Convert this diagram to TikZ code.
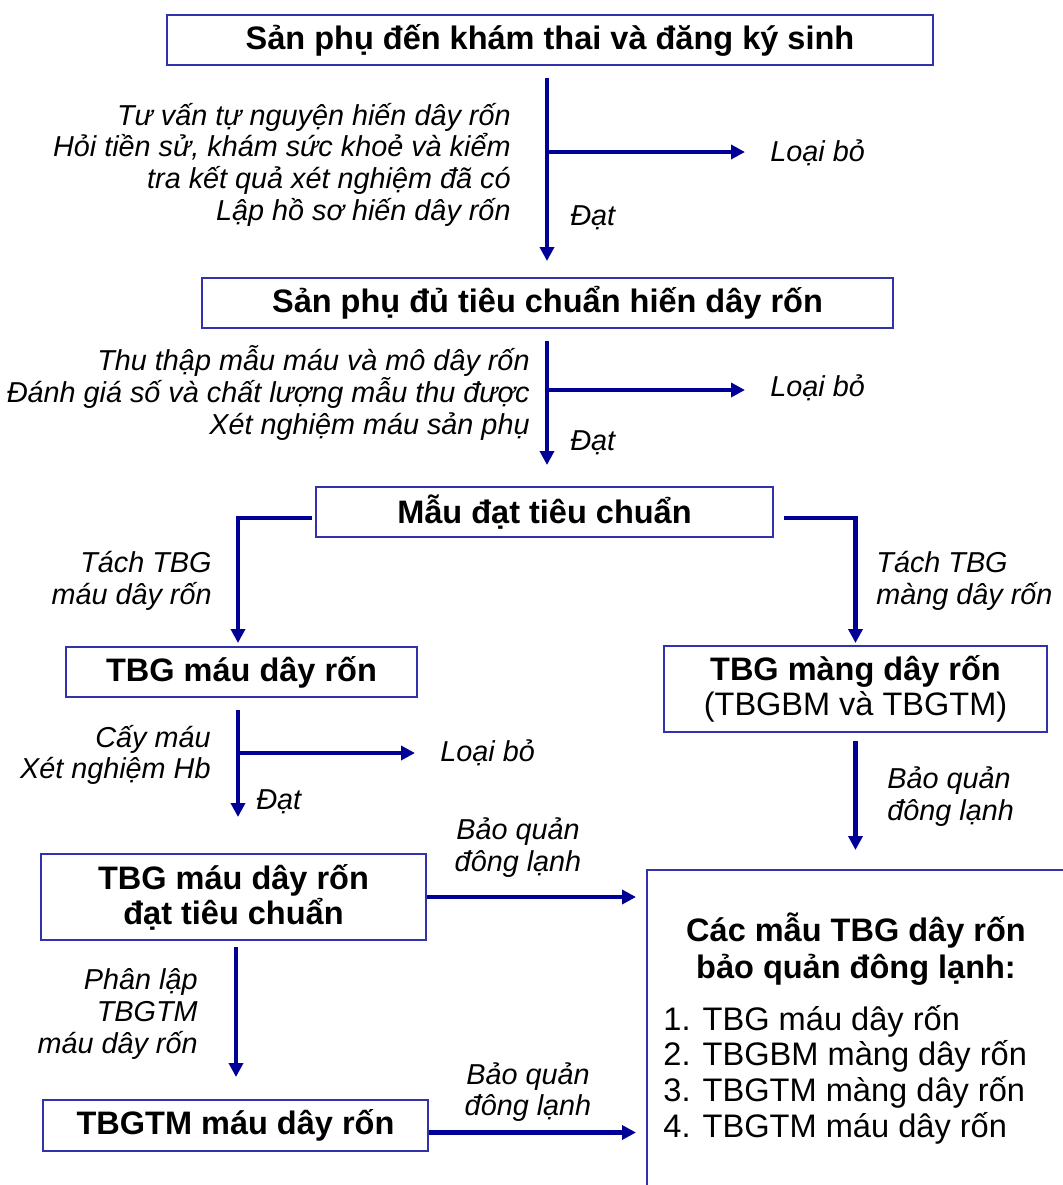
\documentclass[tikz,border=0pt]{standalone}
\usepackage{fontspec}
\setmainfont{Liberation Sans}
\usetikzlibrary{arrows.meta}
\definecolor{arrowblue}{RGB}{0,0,150}
\definecolor{boxblue}{RGB}{50,50,170}
\newcommand{\boxfont}{\fontsize{16.25}{17.5}\selectfont\bfseries}
\newcommand{\notefont}{\fontsize{14.4}{15.85}\selectfont\itshape}

\begin{document}
\begin{tikzpicture}[x=0.5pt,y=-0.5pt,
    box/.style={draw=boxblue,line width=1pt,inner sep=0pt,align=center,font=\boxfont},
    note/.style={inner sep=0pt,font=\notefont},
    arr/.style={draw=arrowblue,line width=2.2pt,-{Triangle[length=7pt,width=7pt]}}]
    \useasboundingbox (0,0) rectangle (1063,1185);
    \clip (0,0) rectangle (1063,1185);

    % Boxes
    \node[box,minimum width=383pt,minimum height=25pt] (kham) at (550,40) {Sản phụ đến khám thai và đăng ký sinh};
    \node[box,minimum width=345.5pt,minimum height=25pt] (dutc) at (547.5,303) {Sản phụ đủ tiêu chuẩn hiến dây rốn};
    \node[box,minimum width=228.5pt,minimum height=25pt] (mau) at (544.5,512) {Mẫu đạt tiêu chuẩn};
    \node[box,minimum width=175.5pt,minimum height=25pt] (tbgmau) at (241.5,672) {TBG máu dây rốn};
    \node[box,minimum width=191.5pt,minimum height=43pt] (tbgmang) at (855.5,689) {TBG màng dây rốn\\\mdseries(TBGBM và TBGTM)};
    \node[box,minimum width=192.5pt,minimum height=43pt] (tbgdat) at (233.5,897) {TBG máu dây rốn\\đạt tiêu chuẩn};
    \node[box,minimum width=192.5pt,minimum height=25.5pt] (tbgtm) at (235.5,1125.5) {TBGTM máu dây rốn};
    \node[draw=boxblue,line width=1pt,inner sep=0pt,minimum width=230pt,minimum height=200pt,anchor=north west] (kho) at (646,869) {};

    % Store contents
    \node[font=\fontsize{16.25}{18.5}\selectfont\bfseries,align=center,inner sep=0pt] (tieude) at (856,949.5) {Các mẫu TBG dây rốn\\bảo quản đông lạnh:};
    \node[font=\fontsize{16.3}{17.85}\selectfont,align=left,inner sep=0pt,anchor=west] (danhsach) at (663,1074.5) {1. TBG máu dây rốn\\2. TBGBM màng dây rốn\\3. TBGTM màng dây rốn\\4. TBGTM máu dây rốn};

    % Labels
    \node[note,anchor=east,align=right] (buoc1) at (511,164.5) {Tư vấn tự nguyện hiến dây rốn\\Hỏi tiền sử, khám sức khoẻ và kiểm\\tra kết quả xét nghiệm đã có\\Lập hồ sơ hiến dây rốn};
    \node[note,anchor=west] (loai1) at (770,153) {Loại bỏ};
    \node[note,anchor=west] (dat1) at (570,218) {Đạt};
    \node[note,anchor=east,align=right] (buoc2) at (530,393) {Thu thập mẫu máu và mô dây rốn\\Đánh giá số và chất lượng mẫu thu được\\Xét nghiệm máu sản phụ};
    \node[note,anchor=west] (loai2) at (770,388) {Loại bỏ};
    \node[note,anchor=west] (dat2) at (570,443) {Đạt};
    \node[note,anchor=east,align=right] (tach1) at (212,581) {Tách TBG\\máu dây rốn};
    \node[note,anchor=west,align=left] (tach2) at (876,581) {Tách TBG\\màng dây rốn};
    \node[note,anchor=east,align=right] (buoc3) at (211,755) {Cấy máu\\Xét nghiệm Hb};
    \node[note,anchor=west] (loai3) at (440,753) {Loại bỏ};
    \node[note,anchor=west] (dat3) at (256,802) {Đạt};
    \node[note,anchor=west,align=left] (bq1) at (887,796.5) {Bảo quản\\đông lạnh};
    \node[note,align=center] (bq2) at (518,847.5) {Bảo quản\\đông lạnh};
    \node[note,anchor=east,align=right] (phan) at (198,1014) {Phân lập\\TBGTM\\máu dây rốn};
    \node[note,align=center] (bq3) at (528,1092) {Bảo quản\\đông lạnh};

    % Arrows
    \coordinate (r1) at (547,152);
    \coordinate (r2) at (547,390);
    \coordinate (r3) at (238,753);
    \draw[arr,shorten <=6pt,shorten >=8pt] (kham.south -| r1) -- (dutc.north -| r1);
    \draw[arr,shorten >=12.5pt] (r1) -- (r1 -| loai1.west);
    \draw[arr,shorten <=6pt,shorten >=10.5pt] (dutc.south -| r2) -- (mau.north -| r2);
    \draw[arr,shorten >=12.5pt] (r2) -- (r2 -| loai2.west);
    \draw[arr,shorten <=1.5pt,shorten >=1.5pt] ([yshift=-3pt]mau.west) -| ([xshift=-1.75pt]tbgmau.north);
    \draw[arr,shorten <=5pt,shorten >=1pt] ([yshift=-3pt]mau.east) -| (tbgmang.north);
    \draw[arr,shorten <=6pt,shorten >=18pt] (tbgmau.south -| r3) -- (tbgdat.north -| r3);
    \draw[arr,shorten >=12.5pt] (r3) -- (r3 -| loai3.west);
    \draw[arr,shorten <=4pt,shorten >=9.5pt] (tbgmang.south) -- (tbgmang.south |- kho.north);
    \draw[arr,shorten >=5pt] (tbgdat.east) -- (tbgdat.east -| kho.west);
    \draw[arr,shorten <=3pt,shorten >=11pt] ([xshift=1.25pt]tbgdat.south) -- ([xshift=1.25pt]tbgdat.south |- tbgtm.north);
    \draw[arr,shorten >=5pt] ([yshift=-3.5pt]tbgtm.east) -- ([yshift=-3.5pt]tbgtm.east -| kho.west);

  \end{tikzpicture}
\end{document}
